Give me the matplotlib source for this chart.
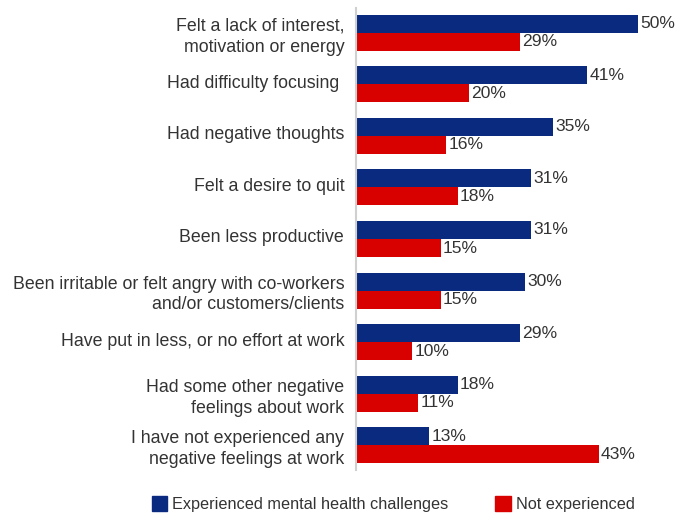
import matplotlib.pyplot as plt
import matplotlib.transforms as mtransforms
from matplotlib.patches import Patch
import numpy as np

plt.rcParams['font.family'] = ['Liberation Sans', 'DejaVu Sans']

# ----- data -----
categories = [
    "Felt a lack of interest,\nmotivation or energy",
    "Had difficulty focusing ",
    "Had negative thoughts",
    "Felt a desire to quit",
    "Been less productive",
    "Been irritable or felt angry with co-workers\nand/or customers/clients",
    "Have put in less, or no effort at work",
    "Had some other negative\nfeelings about work",
    "I have not experienced any\nnegative feelings at work",
]
experienced = [50, 41, 35, 31, 31, 30, 29, 18, 13]
not_experienced = [29, 20, 16, 18, 15, 15, 10, 11, 43]
series_names = ["Experienced mental health challenges", "Not experienced"]

blue = "#0a2a7f"
red = "#d90000"
txt = "#333333"

# ----- plot -----
fig = plt.figure(figsize=(6.91, 5.13), dpi=100)
ax = fig.add_axes([356 / 691, 1 - 470 / 513, 1 - 356 / 691, 462 / 513])

y = np.arange(len(categories))
h = 0.35
ax.barh(y - h / 2, experienced, height=h, color=blue)
ax.barh(y + h / 2, not_experienced, height=h, color=red)

for i in range(len(categories)):
    ax.text(experienced[i] + 0.4, y[i] - h / 2, f"{experienced[i]}%",
            va="center", ha="left", fontsize=12.6, color=txt)
    ax.text(not_experienced[i] + 0.4, y[i] + h / 2, f"{not_experienced[i]}%",
            va="center", ha="left", fontsize=12.6, color=txt)

ax.set_xlim(0, 59.4)
ax.set_ylim(8.48, -0.48)
ax.set_yticks(y)
ax.set_yticklabels(categories, fontsize=12.8, color=txt, linespacing=1.3)
ax.tick_params(axis="y", length=0, pad=8.5)
ax.set_xticks([])
for s in ["top", "right", "bottom"]:
    ax.spines[s].set_visible(False)
ax.spines["left"].set_color("#d0d0d0")
ax.spines["left"].set_linewidth(1.5)

# single-line labels sit a little above the bar centre
up = mtransforms.ScaledTranslation(0, 3 / 100, fig.dpi_scale_trans)
for lab in ax.get_yticklabels():
    if "\n" not in lab.get_text():
        lab.set_transform(lab.get_transform() + up)

handles = [Patch(color=blue), Patch(color=red)]
fig.legend(handles, series_names, loc="upper center", ncol=2, frameon=False,
           bbox_to_anchor=(0.569, 1 - 490 / 513), fontsize=11.7,
           handlelength=0.95, handleheight=0.95, handletextpad=0.3,
           columnspacing=2.9, labelcolor=txt, borderaxespad=0)

fig.savefig("out.png", dpi=100)
